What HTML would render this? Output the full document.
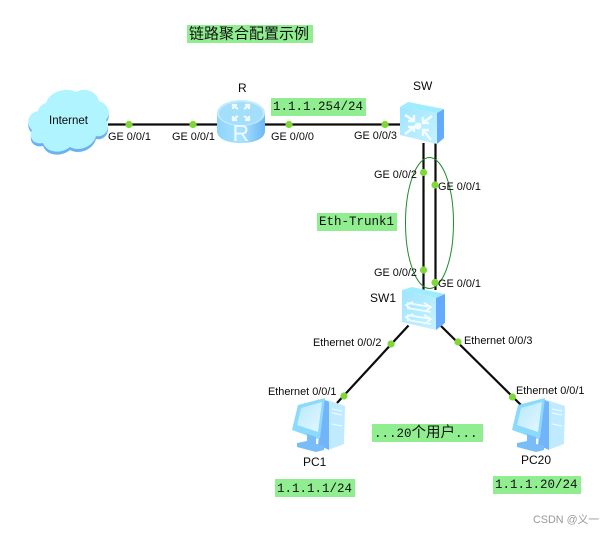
<!DOCTYPE html>
<html><head><meta charset="utf-8"><style>
html,body{margin:0;padding:0;background:#fff;width:616px;height:534px;overflow:hidden}
svg{display:block}
.l{font:10.9px "Liberation Sans",sans-serif;fill:#0a0a0a}
.n{font:12px "Liberation Sans",sans-serif;fill:#0a0a0a}
.m{font:12.5px "Liberation Mono","Noto Sans CJK SC",monospace;fill:#111}
</style></head><body>
<svg width="616" height="534" viewBox="0 0 616 534" xmlns="http://www.w3.org/2000/svg">
<defs>
<linearGradient id="sw" x1="0" y1="0" x2="1" y2="1"><stop offset="0" stop-color="#9fe4ff"/><stop offset="1" stop-color="#c6f3ff"/></linearGradient>
<linearGradient id="rt" x1="0" y1="0" x2="1" y2="0"><stop offset="0" stop-color="#8ed4fb"/><stop offset="0.5" stop-color="#a9e2fe"/><stop offset="1" stop-color="#6db8f6"/></linearGradient>
<linearGradient id="scr" x1="0" y1="0" x2="1" y2="1"><stop offset="0" stop-color="#b5e8fd"/><stop offset="1" stop-color="#e4f8fe"/></linearGradient>
<g id="pc">
<path d="M35 2 L53 8 L52 46 L36 52Z" fill="#bfeaff"/>
<path d="M40 11 L50 13 M40 15 L50 17 M40 26 L50 28" stroke="#eaf9ff" stroke-width="1.200" fill="none"/>
<path d="M31 1 L37 4 L37 52 L26 47Z" fill="#72b4fa"/>
<path d="M6 7 L33 0 L28 40 L25 41 L0 32Z" fill="#8bd9fb"/>
<path d="M9 10 L30 4 L26 34 L5 27Z" fill="url(#scr)"/>
<path d="M15 36 L24 39 L24 46 L32 47 L32 52 L24 54 L5 49 L5 45 L15 43Z" fill="#78bdf8"/>
</g>
</defs>

<rect x="187" y="25" width="126" height="18" fill="#90ee90"/>
<text x="189" y="38.5" font-family="'Liberation Sans','Noto Sans CJK SC',sans-serif" font-size="15" fill="#111" textLength="120">链路聚合配置示例</text>

<rect x="271" y="98" width="95" height="18" fill="#90ee90"/>
<text x="273" y="110" class="m">1.1.1.254/24</text>
<rect x="317" y="213" width="80" height="18" fill="#90ee90"/>
<text x="319" y="225" class="m">Eth-Trunk1</text>
<rect x="372" y="424" width="111" height="18" fill="#90ee90"/>
<text x="374" y="437" class="m">...20<tspan font-size="14.500">个用户</tspan>...</text>
<rect x="275" y="479" width="80" height="18" fill="#90ee90"/>
<text x="277" y="492" class="m">1.1.1.1/24</text>
<rect x="493" y="476" width="88" height="18" fill="#90ee90"/>
<text x="495" y="488" class="m">1.1.1.20/24</text>

<g stroke="#0c0c0c" stroke-width="2.200" fill="none">
<line x1="108" y1="124.5" x2="220" y2="124.5"/>
<line x1="262" y1="124.5" x2="402" y2="124.5"/>
<line x1="423.5" y1="143" x2="423.5" y2="290"/>
<line x1="435.5" y1="143" x2="435.5" y2="290"/>
<line x1="408.5" y1="325.5" x2="337" y2="403"/>
<line x1="441" y1="326" x2="521" y2="405"/>
</g>
<ellipse cx="429.5" cy="223" rx="24" ry="65.500" fill="none" stroke="#1f8a2a" stroke-width="1"/>

<!-- cloud -->
<path transform="translate(0,3)" d="M46 103 C50 91 66 87 76 92 C84 87 97 91 99 101 C108 104 112 113 106 120 C112 130 103 138 96 136 C93 147 79 152 70 147 C60 155 46 152 43 143 C34 145 28 138 32 130 C25 124 28 113 38 111 C39 107 42 104 46 103Z" fill="#69b1f4"/>
<path d="M46 103 C50 91 66 87 76 92 C84 87 97 91 99 101 C108 104 112 113 106 120 C112 130 103 138 96 136 C93 147 79 152 70 147 C60 155 46 152 43 143 C34 145 28 138 32 130 C25 124 28 113 38 111 C39 107 42 104 46 103Z" fill="#b0f4ff"/>
<text x="49" y="124" class="l" style="font-size:11.5px">Internet</text>

<!-- router -->
<path d="M217 113 V131 C217 139 228 143 241 143 C254 143 265 139 265 131 V113Z" fill="url(#rt)"/>
<ellipse cx="241" cy="113" rx="24" ry="13" fill="#c4ebfd"/>
<ellipse cx="241" cy="113.500" rx="22" ry="11.500" fill="#a3defb"/>
<g stroke="#eefaff" stroke-width="2.200" fill="none">
<path d="M232 105 L238 109M233 109 V105 H237"/>
<path d="M250 105 L244 109M249 109 V105 H245"/>
<path d="M232 120 L238 116M233 116 V120 H237"/>
<path d="M250 120 L244 116M249 116 V120 H245"/>
</g>
<text x="232.500" y="141" font-family="'Liberation Sans',sans-serif" font-size="23" fill="#eefaff">R</text>
<text x="238" y="92" class="n">R</text>

<!-- SW -->
<path d="M400 107 L408 102 L444 109 L437 113Z" fill="#a0ecff"/>
<path d="M437 113 L444 109 L444 138 L437 144Z" fill="#66aaff"/>
<path d="M400 107 L437 113 L437 144 L400 135Z" fill="url(#sw)"/>
<g stroke="#f4fcff" stroke-width="2.400" fill="none">
<path d="M405 115 L413 120M414 115 V121 H408"/>
<path d="M432 116 L424 122M423 117 V123 H429"/>
<path d="M405 134 L413 128M408 127 H414 V132"/>
<path d="M431 140 L424 131M423 136 V130 H429"/>
</g>
<circle cx="418" cy="126" r="3.500" fill="#f4fcff"/>
<text x="413" y="90" class="n">SW</text>

<!-- SW1 -->
<path d="M402 290 L412 287 L445 294 L436 298Z" fill="#a0ecff"/>
<path d="M436 298 L445 294 L445 323 L436 330Z" fill="#66aaff"/>
<path d="M402 290 L436 298 L436 330 L402 322Z" fill="url(#sw)"/>
<g stroke="#f4fcff" stroke-width="1.800" fill="none">
<path d="M407 303 L431 307M407 308 L431 312M424 303 L431 307 L426 311M413 302 L406 305 L411 309"/>
<path d="M407 315 L431 319M407 320 L431 324M424 315 L431 319 L426 323M413 314 L406 317 L411 321"/>
</g>
<text x="370" y="302" class="n">SW1</text>

<!-- PCs -->
<use href="#pc" x="292" y="398"/>
<use href="#pc" x="512" y="398"/>
<text x="303" y="466" class="n">PC1</text>
<text x="521" y="464" class="n">PC20</text>

<!-- dots -->
<g fill="#80d838">
<circle cx="129" cy="124.500" r="3.600"/><circle cx="193" cy="124.500" r="3.600"/>
<circle cx="289" cy="124.500" r="3.600"/><circle cx="385" cy="124.500" r="3.600"/>
<circle cx="423.500" cy="172.500" r="3.600"/><circle cx="435" cy="185" r="3.600"/>
<circle cx="423.500" cy="270" r="3.600"/><circle cx="435" cy="282.500" r="3.600"/>
<circle cx="391" cy="344" r="3.600"/><circle cx="344" cy="396" r="3.600"/>
<circle cx="458" cy="342" r="3.600"/><circle cx="512.500" cy="397" r="3.600"/>
</g>

<!-- port labels -->
<text x="108" y="140" class="l">GE 0/0/1</text>
<text x="172" y="140" class="l">GE 0/0/1</text>
<text x="271" y="140" class="l">GE 0/0/0</text>
<text x="354" y="139" class="l">GE 0/0/3</text>
<text x="374" y="178" class="l">GE 0/0/2</text>
<text x="438" y="190" class="l">GE 0/0/1</text>
<text x="374" y="276" class="l">GE 0/0/2</text>
<text x="438" y="287" class="l">GE 0/0/1</text>
<text x="313" y="346" class="l">Ethernet 0/0/2</text>
<text x="464" y="344" class="l">Ethernet 0/0/3</text>
<text x="268" y="395" class="l">Ethernet 0/0/1</text>
<text x="516" y="394" class="l">Ethernet 0/0/1</text>

<text x="533" y="523" font-family="'Liberation Sans','Noto Sans CJK SC',sans-serif" font-size="10.800" fill="#9a9a9a">CSDN @义一</text>
</svg>
</body></html>
